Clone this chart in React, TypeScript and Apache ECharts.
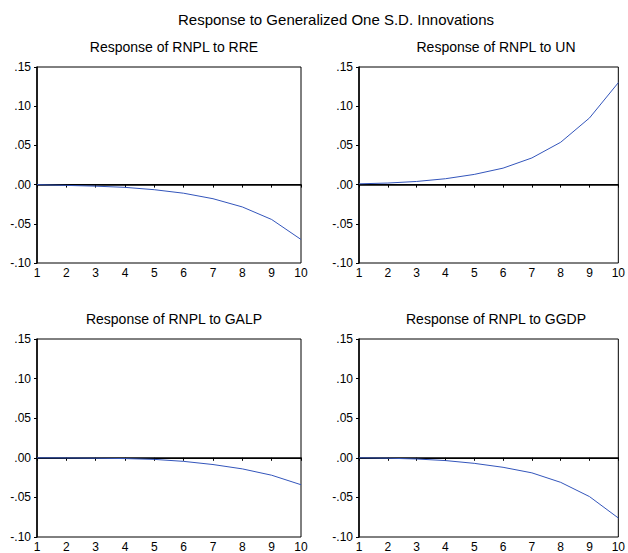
import React, { useEffect, useRef } from "react";
import * as echarts from "echarts";

const periods = [1, 2, 3, 4, 5, 6, 7, 8, 9, 10];
const rre = [0, -0.001, -0.002, -0.0035, -0.0065, -0.011, -0.018, -0.0285, -0.0445, -0.070];
const un = [0.001, 0.002, 0.004, 0.0075, 0.013, 0.021, 0.034, 0.054, 0.085, 0.13];
const galp = [0, -0.0002, -0.0005, -0.001, -0.002, -0.0045, -0.0085, -0.014, -0.022, -0.034];
const ggdp = [0, -0.0005, -0.0015, -0.0035, -0.007, -0.012, -0.019, -0.031, -0.049, -0.076];
const subtitles = ["Response of RNPL to RRE", "Response of RNPL to UN", "Response of RNPL to GALP", "Response of RNPL to GGDP"];
const mainTitle = "Response to Generalized One S.D. Innovations";

export default function App() {
  const ref = useRef<HTMLDivElement>(null);
  useEffect(() => {
    if (!ref.current) return;
    const chart = echarts.init(ref.current, null, { renderer: "svg" });
    const font = "Arial, 'Liberation Sans', sans-serif";
    const grids = [
      { left: 37, top: 67, width: 264, height: 196 },
      { left: 359, top: 67, width: 264, height: 196 },
      { left: 37, top: 339, width: 264, height: 198 },
      { left: 359, top: 339, width: 264, height: 198 },
    ];
    const data = [rre, un, galp, ggdp];
    const fmtY = (v: number) => {
      const s = (Math.round(v * 100) / 100).toFixed(2);
      return s.replace("0.", ".");
    };
    chart.setOption({
      animation: false,
      backgroundColor: "#fff",
      title: [
        { text: mainTitle, left: 331, top: 7, textAlign: "center", textStyle: { fontFamily: font, fontSize: 15, fontWeight: "normal", color: "#000" } },
        ...subtitles.map((t, i) => ({
          text: t,
          left: grids[i].left + grids[i].width / 2,
          top: grids[i].top - 32,
          textAlign: "center",
          textStyle: { fontFamily: font, fontSize: 14, fontWeight: "normal", color: "#000" },
        })),
      ],
      grid: grids.map((g) => ({ ...g, show: true, borderColor: "#000", borderWidth: 1, backgroundColor: "#fff" })),
      xAxis: grids.map((_, i) => ({
        type: "value",
        gridIndex: i,
        min: 1,
        max: 10,
        interval: 1,
        axisLine: { show: true, lineStyle: { color: "#000", width: 1.5 } },
        axisTick: { show: true, length: 3, lineStyle: { color: "#000" } },
        axisLabel: { color: "#000", fontFamily: font, fontSize: 12, margin: 4 },
        splitLine: { show: false },
      })),
      yAxis: grids.map((_, i) => ({
        type: "value",
        gridIndex: i,
        min: -0.1,
        max: 0.15,
        interval: 0.05,
        axisLine: { show: true, lineStyle: { color: "#000", width: 1.5 } },
        axisTick: { show: true, length: 3, lineStyle: { color: "#000" } },
        axisLabel: { color: "#000", fontFamily: font, fontSize: 12, margin: 6, formatter: fmtY },
        splitLine: { show: false },
      })),
      series: data.map((d, i) => ({
        type: "line",
        xAxisIndex: i,
        yAxisIndex: i,
        data: periods.map((p, j) => [p, d[j]]),
        showSymbol: false,
        symbol: "none",
        lineStyle: { color: "#3355bb", width: 1 },
        z: 3,
        markLine: {
          silent: true,
          symbol: "none",
          label: { show: false },
          lineStyle: { color: "#000", width: 1, type: "solid" },
          data: [{ yAxis: 0 }],
          z: 2,
        },
      })),
    });
    return () => chart.dispose();
  }, []);
  return <div ref={ref} style={{ position: "fixed", left: 0, top: 0, width: 628, height: 553 }} />;
}
